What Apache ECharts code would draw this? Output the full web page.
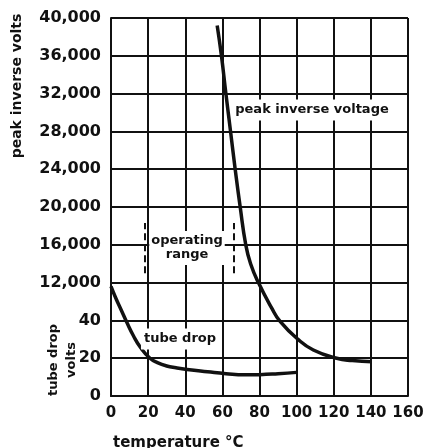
<!DOCTYPE html>
<html><head><meta charset="utf-8">
<script src="https://cdn.jsdelivr.net/npm/echarts@6/dist/echarts.min.js"></script>
<style>html,body{margin:0;padding:0;background:#fff}#c{width:428px;height:448px}</style>
</head><body><div id="c"></div>
<script>
const temperatureTicks = ['0','20','40','60','80','100','120','140','160'];
const peakTicks = ['12,000','16,000','20,000','24,000','28,000','32,000','36,000','40,000'];
const dropTicks = ['0','20','40'];
const peakTemp  = [57.2, 59.5, 61.9, 64.4, 66.9, 69.6, 72.6, 75.2, 79.4, 86.6, 91.1, 100.4, 109, 121.6, 130, 140.5];
const peakVolts = [39200, 36000, 32000, 28000, 24000, 20000, 16000, 14000, 12000, 9300, 7900, 6050, 4870, 3990, 3750, 3630];
const dropTemp  = [0, 2.5, 5.5, 8.5, 12, 16, 21, 25, 30, 35, 41, 52, 62, 72, 80, 90, 100];
const dropVolts = [58, 52, 45.5, 39, 32, 25.5, 20, 17.7, 15.9, 14.9, 14, 12.8, 11.8, 11.2, 11.3, 11.8, 12.5];
const opRangeTemp = [18, 66];
const opRangeVolts = [13000, 18300];

const INK = '#111';
const F = '"DejaVu Sans", sans-serif';
const chart = echarts.init(document.getElementById('c'), null, {renderer: 'canvas'});
const tickLabel = {color: INK, fontFamily: F, fontWeight: 'bold', fontSize: 16};
chart.setOption({
  animation: false,
  backgroundColor: '#fff',
  grid: {left: 111, top: 18, width: 297, height: 378, show: false},
  xAxis: {
    type: 'value', min: 0, max: 160, interval: 20,
    axisLine: {show: true, lineStyle: {color: INK, width: 2}},
    axisTick: {show: false},
    splitLine: {show: true, lineStyle: {color: INK, width: 2}},
    axisLabel: Object.assign({}, tickLabel, {fontSize: 15, margin: 10, formatter: v => temperatureTicks.includes(String(v)) ? String(v) : ''})
  },
  yAxis: [{
    type: 'value', min: 0, max: 40000, interval: 4000,
    axisLine: {show: true, lineStyle: {color: INK, width: 2}},
    axisTick: {show: false},
    splitLine: {show: true, lineStyle: {color: INK, width: 2}},
    axisLabel: Object.assign({margin: 10, formatter: v => { const s = v.toLocaleString('en-US'); return peakTicks.includes(s) ? s : ''; }}, tickLabel)
  }, {
    type: 'value', min: 0, max: 200, interval: 20, position: 'left', offset: 0,
    axisLine: {show: false}, axisTick: {show: false}, splitLine: {show: false},
    axisLabel: Object.assign({margin: 10, formatter: v => dropTicks.includes(String(v)) ? String(v) : ''}, tickLabel)
  }],
  series: [{
    type: 'line', yAxisIndex: 0, smooth: 0.5, showSymbol: false,
    lineStyle: {color: INK, width: 3.5},
    data: peakTemp.map((t, i) => [t, peakVolts[i]]),
    markLine: {
      silent: true, symbol: 'none', label: {show: false},
      lineStyle: {color: INK, width: 2, type: [7, 4]},
      data: opRangeTemp.map(t => [{coord: [t, opRangeVolts[0]]}, {coord: [t, opRangeVolts[1]]}])
    }
  }, {
    type: 'line', yAxisIndex: 1, smooth: 0.5, showSymbol: false,
    lineStyle: {color: INK, width: 3.5},
    data: dropTemp.map((t, i) => [t, dropVolts[i]])
  }],
  graphic: [
    {type: 'text', x: 17, y: 86, rotation: Math.PI / 2, z: 100,
     style: {text: 'peak inverse volts', fill: INK, font: 'bold 14px ' + F, textAlign: 'center', textVerticalAlign: 'middle'}},
    {type: 'text', x: 54, y: 360, rotation: Math.PI / 2, z: 100,
     style: {text: 'tube drop', fill: INK, font: 'bold 13px ' + F, textAlign: 'center', textVerticalAlign: 'middle'}},
    {type: 'text', x: 72, y: 360, rotation: Math.PI / 2, z: 100,
     style: {text: 'volts', fill: INK, font: 'bold 13px ' + F, textAlign: 'center', textVerticalAlign: 'middle'}},
    {type: 'text', x: 113, y: 443, z: 100,
     style: {text: 'temperature °C', fill: INK, font: 'bold 15px ' + F, textAlign: 'left', textVerticalAlign: 'middle'}},
    {type: 'text', x: 312, y: 110, z: 100,
     style: {text: 'peak inverse voltage', fill: INK, font: 'bold 13px ' + F, textAlign: 'center', textVerticalAlign: 'middle', backgroundColor: '#fff', padding: [4, 2]}},
    {type: 'text', x: 180, y: 339, z: 100,
     style: {text: 'tube drop', fill: INK, font: 'bold 13px ' + F, textAlign: 'center', textVerticalAlign: 'middle', backgroundColor: '#fff', padding: [4, 3]}},
    {type: 'text', x: 187, y: 248, z: 100,
     style: {text: 'operating\nrange', fill: INK, font: 'bold 13px ' + F, lineHeight: 14, textAlign: 'center', textVerticalAlign: 'middle', backgroundColor: '#fff', padding: [3, 2]}}
  ]
});
</script></body></html>
